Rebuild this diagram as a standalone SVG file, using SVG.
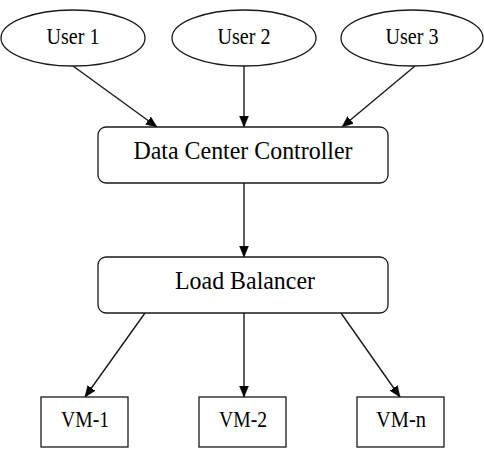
<svg xmlns="http://www.w3.org/2000/svg" width="484" height="454" viewBox="0 0 484 454">
<style>
  .shape { fill: #ffffff; stroke: #1a1a1a; stroke-width: 1.3; }
  .edge { fill: none; stroke: #1a1a1a; stroke-width: 1.4; marker-end: url(#arrow); }
  .lbl { font-family: "Liberation Serif", "Times New Roman", serif; fill: #000000; text-anchor: middle; }
  .big { font-size: 26px; }
  .small { font-size: 23px; }
</style>
<defs>
  <marker id="arrow" markerUnits="userSpaceOnUse" markerWidth="12" markerHeight="11" refX="11" refY="5" orient="auto">
    <path d="M0,0.5 L11,5 L0,9.5 Z" fill="#000000" stroke="#000000" stroke-width="0.5"/>
  </marker>
</defs>
<rect width="484" height="454" fill="#ffffff"/>
<g id="edges">
  <line class="edge" x1="73" y1="66" x2="157" y2="127"/>
  <line class="edge" x1="244" y1="66" x2="244" y2="127"/>
  <line class="edge" x1="415" y1="66" x2="342" y2="127"/>
  <line class="edge" x1="244" y1="183" x2="244" y2="257"/>
  <line class="edge" x1="145" y1="313" x2="85" y2="397"/>
  <line class="edge" x1="244" y1="313" x2="244" y2="397"/>
  <line class="edge" x1="341" y1="313" x2="400" y2="397"/>
</g>
<g id="user1">
  <ellipse class="shape" cx="73" cy="38" rx="72" ry="28"/>
  <text class="lbl small" x="73" y="44" textLength="53" lengthAdjust="spacingAndGlyphs">User 1</text>
</g>
<g id="user2">
  <ellipse class="shape" cx="244" cy="38" rx="72" ry="28"/>
  <text class="lbl small" x="244" y="44" textLength="53" lengthAdjust="spacingAndGlyphs">User 2</text>
</g>
<g id="user3">
  <ellipse class="shape" cx="412" cy="38" rx="71" ry="28"/>
  <text class="lbl small" x="412" y="44" textLength="53" lengthAdjust="spacingAndGlyphs">User 3</text>
</g>
<g id="dcc">
  <rect class="shape" x="98" y="127" width="290" height="56" rx="8" ry="8"/>
  <text class="lbl big" x="243" y="159" textLength="219" lengthAdjust="spacingAndGlyphs">Data Center Controller</text>
</g>
<g id="lb">
  <rect class="shape" x="98" y="257" width="290" height="56" rx="8" ry="8"/>
  <text class="lbl big" x="245" y="289" textLength="140" lengthAdjust="spacingAndGlyphs">Load Balancer</text>
</g>
<g id="vm1">
  <rect class="shape" x="41" y="397" width="87" height="50"/>
  <text class="lbl small" x="85" y="427" textLength="48" lengthAdjust="spacingAndGlyphs">VM-1</text>
</g>
<g id="vm2">
  <rect class="shape" x="199" y="397" width="87" height="50"/>
  <text class="lbl small" x="243" y="427" textLength="48" lengthAdjust="spacingAndGlyphs">VM-2</text>
</g>
<g id="vmn">
  <rect class="shape" x="357" y="397" width="87" height="50"/>
  <text class="lbl small" x="401" y="427" textLength="50" lengthAdjust="spacingAndGlyphs">VM-n</text>
</g>
</svg>
